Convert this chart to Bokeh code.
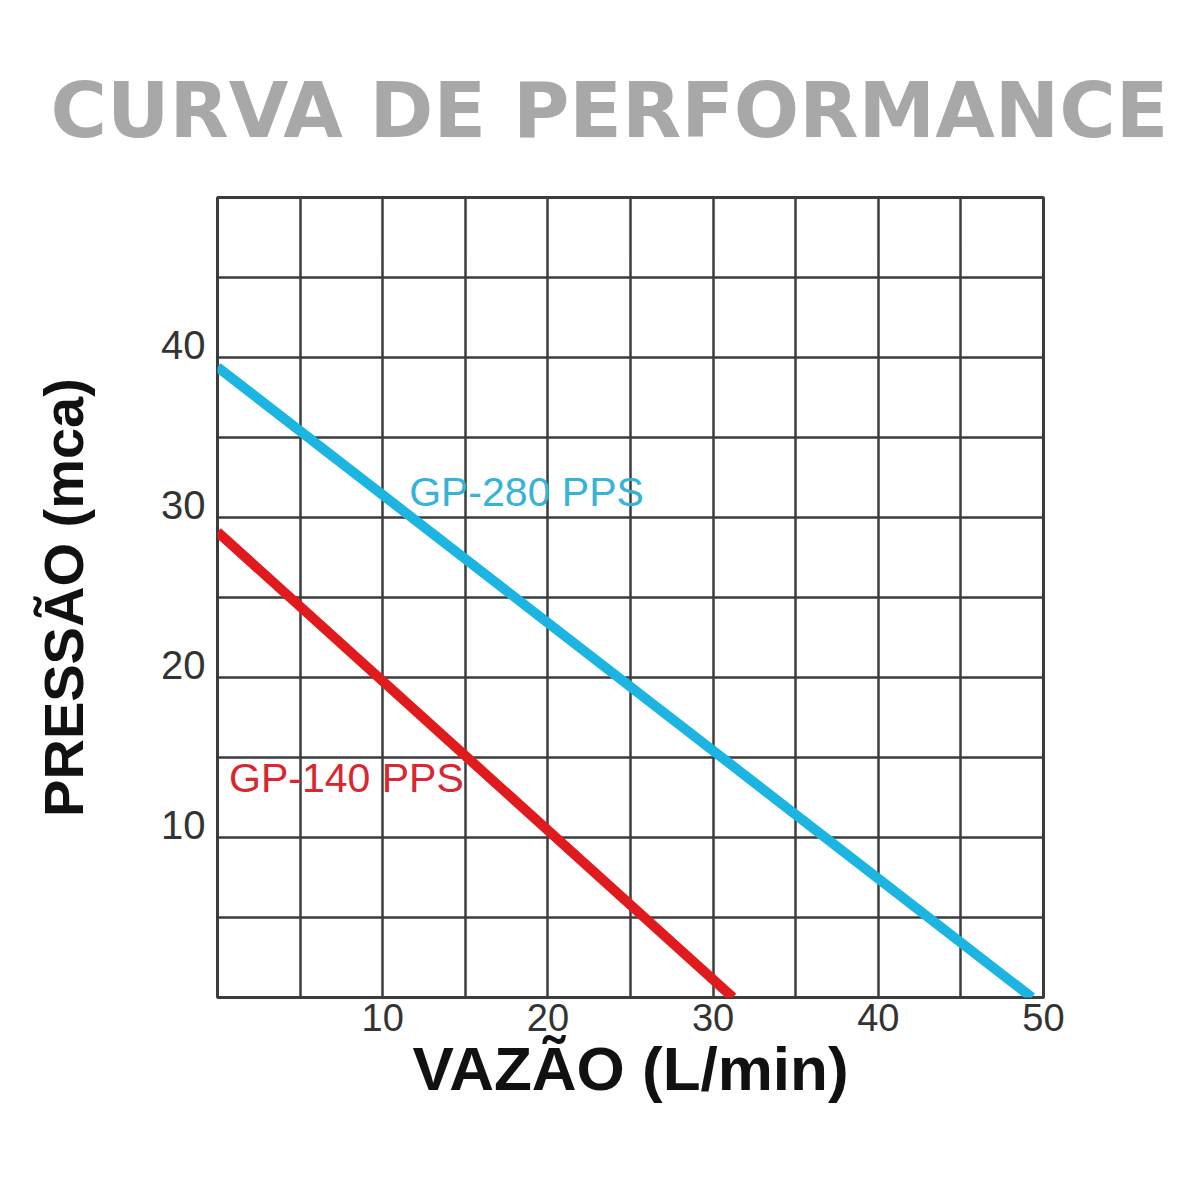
from bokeh.core.properties import value
from bokeh.embed import file_html
from bokeh.models import FixedTicker, Grid, LinearAxis, Range1d
from bokeh.plotting import figure
from bokeh.resources import INLINE

# performance curves (flow L/min, pressure mca)
flow_280 = [0, 49.3]
pressure_280 = [39.4, 0]
flow_140 = [0, 31.2]
pressure_140 = [29.1, 0]

x_ticks = [10, 20, 30, 40, 50]
y_ticks = [10, 20, 30, 40]
grid_steps = [0, 5, 10, 15, 20, 25, 30, 35, 40, 45, 50]

# curve names, placed where the original puts them
names = ["GP-280 PPS", "GP-140 PPS"]
name_x = [11.6, 0.7]
name_y = [31.6, 13.7]

blue = "#1cb5e2"
red = "#e11a1e"
grid_color = "#3c3c3c"

p = figure(width=1184, height=1184, output_backend="svg", toolbar_location=None,
           x_range=Range1d(0, 50), y_range=Range1d(0, 50), y_axis_location=None,
           min_border_left=217, min_border_right=141,
           min_border_top=197, min_border_bottom=187)

p.title.text = "CURVA DE PERFORMANCE"
p.title.align = "left"
p.title.offset = -167
p.title.text_font = "DejaVu Sans"
p.title.text_font_size = "77px"
p.title.text_font_style = "bold"
p.title.text_color = "#a8a8a8"
p.title.standoff = 86

p.outline_line_color = grid_color
p.outline_line_width = 3

p.xgrid.visible = False
p.ygrid.visible = False
for dim in (0, 1):
    p.add_layout(Grid(dimension=dim, ticker=FixedTicker(ticks=grid_steps),
                      grid_line_color=grid_color, grid_line_width=2.5))

p.xaxis.ticker = FixedTicker(ticks=x_ticks)
p.xaxis.axis_line_color = None
p.xaxis.major_tick_line_color = None
p.xaxis.minor_tick_line_color = None
p.xaxis.major_label_text_font = "Liberation Sans"
p.xaxis.major_label_text_font_size = "38px"
p.xaxis.major_label_text_color = "#333333"
p.xaxis.major_label_standoff = 0
p.xaxis.axis_label = "VAZÃO (L/min)"
p.xaxis.axis_label_text_font = "Liberation Sans"
p.xaxis.axis_label_text_font_style = "bold"
p.xaxis.axis_label_text_font_size = "62px"
p.xaxis.axis_label_text_color = "#111111"
p.xaxis.axis_label_standoff = 0

# pressure labels sit just above their grid lines in the original
p.extra_y_ranges = {"labels": Range1d(-0.8, 49.2)}
yax = LinearAxis(y_range_name="labels", ticker=FixedTicker(ticks=y_ticks),
                 axis_line_color=None, major_tick_line_color=None,
                 minor_tick_line_color=None,
                 major_label_text_font="Liberation Sans",
                 major_label_text_font_size="40px",
                 major_label_text_color="#333333", major_label_standoff=6,
                 axis_label="PRESSÃO (mca)", axis_label_standoff=63,
                 axis_label_text_font="Liberation Sans",
                 axis_label_text_font_size="56px",
                 axis_label_text_font_style="bold",
                 axis_label_text_color="#111111")
p.add_layout(yax, "left")

p.line(flow_280, pressure_280, line_color=blue, line_width=10)
p.line(flow_140, pressure_140, line_color=red, line_width=10)

p.text(name_x[:1], name_y[:1], text=names[:1], text_color="#35b3d8",
       text_font=value("Liberation Sans"), text_font_size="41px",
       text_baseline="middle", text_align="left")
p.text(name_x[1:], name_y[1:], text=names[1:], text_color="#d9262f",
       text_font=value("Liberation Sans"), text_font_size="41px",
       text_baseline="middle", text_align="left")

open("out.html", "w").write(file_html(p, INLINE))
